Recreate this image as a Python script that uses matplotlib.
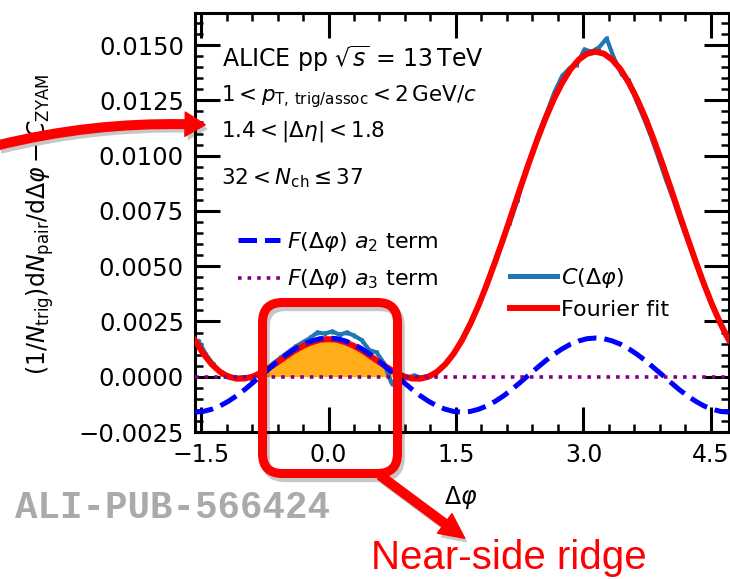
import matplotlib.pyplot as plt
import matplotlib.patheffects as pe
from matplotlib.lines import Line2D
from matplotlib.patches import FancyBboxPatch, FancyArrowPatch
from matplotlib.ticker import MultipleLocator, FuncFormatter

plt.rcParams['font.family'] = ['DejaVu Sans']
plt.rcParams['mathtext.fontset'] = 'dejavusans'

# measured correlation, 72 bins in delta phi
dphi = [-1.527, -1.440, -1.353, -1.265, -1.178, -1.091, -1.004, -0.916, -0.829, -0.742,
        -0.654, -0.567, -0.480, -0.393, -0.305, -0.218, -0.131, -0.044, 0.044, 0.131,
        0.218, 0.305, 0.393, 0.480, 0.567, 0.654, 0.742, 0.829, 0.916, 1.004,
        1.091, 1.178, 1.265, 1.353, 1.440, 1.527, 1.614, 1.702, 1.789, 1.876,
        1.963, 2.051, 2.138, 2.225, 2.313, 2.400, 2.487, 2.574, 2.662, 2.749,
        2.836, 2.923, 3.011, 3.098, 3.185, 3.272, 3.360, 3.447, 3.534, 3.621,
        3.709, 3.796, 3.883, 3.971, 4.058, 4.145, 4.232, 4.320, 4.407, 4.494,
        4.581, 4.669]
corr = [0.00160, 0.00100, 0.00055, 0.00015, 0.00005, -0.00005, -0.00002, -0.00006, 0.00008, 0.00025,
        0.00060, 0.00085, 0.00110, 0.00135, 0.00155, 0.00175, 0.00200, 0.00195, 0.00205, 0.00190,
        0.00200, 0.00185, 0.00165, 0.00120, 0.00110, 0.00060, -0.00030, 0.00000, -0.00005, 0.00005,
        -0.00003, 0.00005, 0.00018, 0.00050, 0.00090, 0.00140, 0.00205, 0.00270, 0.00350, 0.00440,
        0.00530, 0.00625, 0.00700, 0.00800, 0.00915, 0.01020, 0.01115, 0.01200, 0.01290, 0.01360,
        0.01395, 0.01415, 0.01480, 0.01470, 0.01490, 0.01530, 0.01440, 0.01370, 0.01340, 0.01250,
        0.01170, 0.01085, 0.00990, 0.00890, 0.00800, 0.00700, 0.00610, 0.00515, 0.00425, 0.00340,
        0.00265, 0.00190]
corr_err = 0.00012

# fit curves, sampled every pi/32
phi_fit = [-1.571, -1.473, -1.374, -1.276, -1.178, -1.080, -0.982, -0.884, -0.785, -0.687,
           -0.589, -0.491, -0.393, -0.295, -0.196, -0.098, 0.000, 0.098, 0.196, 0.295,
           0.393, 0.491, 0.589, 0.687, 0.785, 0.884, 0.982, 1.080, 1.178, 1.276,
           1.374, 1.473, 1.571, 1.669, 1.767, 1.865, 1.963, 2.062, 2.160, 2.258,
           2.356, 2.454, 2.553, 2.651, 2.749, 2.847, 2.945, 3.043, 3.142, 3.240,
           3.338, 3.436, 3.534, 3.632, 3.731, 3.829, 3.927, 4.025, 4.123, 4.222,
           4.320, 4.418, 4.516, 4.614, 4.712]
fourier_fit = [0.00165, 0.00104, 0.00056, 0.00022, 0.00000, -0.00009, -0.00008, 0.00002, 0.00020, 0.00043,
               0.00068, 0.00094, 0.00119, 0.00140, 0.00156, 0.00167, 0.00170, 0.00167, 0.00156, 0.00140,
               0.00119, 0.00094, 0.00068, 0.00043, 0.00020, 0.00002, -0.00008, -0.00009, 0.00000, 0.00022,
               0.00056, 0.00104, 0.00165, 0.00239, 0.00324, 0.00419, 0.00522, 0.00630, 0.00742, 0.00855,
               0.00965, 0.01070, 0.01168, 0.01255, 0.01329, 0.01390, 0.01434, 0.01461, 0.01470, 0.01461,
               0.01434, 0.01390, 0.01329, 0.01255, 0.01168, 0.01070, 0.00965, 0.00855, 0.00742, 0.00630,
               0.00522, 0.00419, 0.00324, 0.00239, 0.00165]
a2_term = [-0.00160, -0.00157, -0.00147, -0.00132, -0.00111, -0.00086, -0.00057, -0.00025, 0.00008, 0.00040,
           0.00072, 0.00101, 0.00126, 0.00147, 0.00162, 0.00172, 0.00175, 0.00172, 0.00162, 0.00147,
           0.00126, 0.00101, 0.00072, 0.00040, 0.00008, -0.00025, -0.00057, -0.00086, -0.00111, -0.00132,
           -0.00147, -0.00157, -0.00160, -0.00157, -0.00147, -0.00132, -0.00111, -0.00086, -0.00057, -0.00025,
           0.00008, 0.00040, 0.00072, 0.00101, 0.00126, 0.00147, 0.00162, 0.00172, 0.00175, 0.00172,
           0.00162, 0.00147, 0.00126, 0.00101, 0.00072, 0.00040, 0.00008, -0.00025, -0.00057, -0.00086,
           -0.00111, -0.00132, -0.00147, -0.00157, -0.00160]
a3_term = [0.0] * 65

W, H = 730, 579
fig = plt.figure(figsize=(W / 100, H / 100), dpi=100)
ax = fig.add_axes([195 / W, 1 - 432 / H, 534 / W, 419 / H])

# near-side yield (a2 term above zero)
near = [(v > 0) and abs(p) < 1.2 for p, v in zip(phi_fit, a2_term)]
ax.fill_between(phi_fit, a2_term, 0, where=near, interpolate=True,
                color='orange', alpha=0.9, lw=0, zorder=1)

ax.errorbar(dphi, corr, yerr=corr_err, fmt='none', ecolor='#1f77b4', elinewidth=2.2, zorder=2)
ax.plot(dphi, corr, color='#1f77b4', lw=3, zorder=2)
ax.plot(phi_fit, fourier_fit, color='red', lw=4.3, zorder=3)
ax.plot(phi_fit, a2_term, color='blue', lw=3.6, ls='--', zorder=4)
ax.plot(phi_fit, a3_term, color='purple', lw=2.6, ls=':', zorder=5)

ax.set_xlim(-1.5708, 4.7124)
ax.set_ylim(-0.0025, 0.01645)
ax.xaxis.set_major_locator(MultipleLocator(1.5))
ax.xaxis.set_minor_locator(MultipleLocator(0.3))
ax.yaxis.set_major_locator(MultipleLocator(0.0025))
ax.yaxis.set_minor_locator(MultipleLocator(0.0005))


def yfmt(v, pos):
    if abs(v) < 1e-10:
        v = 0.0
    return f'{v:.4f}'.replace('-', '\u2212')


ax.yaxis.set_major_formatter(FuncFormatter(yfmt))
ax.tick_params(which='both', direction='in', top=True, right=True)
ax.tick_params(which='major', length=18, width=2.2, pad=8)
ax.tick_params(which='minor', length=6, width=1.8)
ax.tick_params(axis='y', labelsize=17.5)
ax.tick_params(axis='x', labelsize=17)
for s in ax.spines.values():
    s.set_linewidth(2.2)

ax.set_xlabel(r'$\Delta\varphi$', fontsize=17)
ax.xaxis.set_label_coords(0.497, -0.124)
ax.set_ylabel(r'$(1/N_{\rm trig}){\rm d}N_{\rm pair}/{\rm d}\Delta\varphi - C_{\rm ZYAM}$',
              fontsize=17, va='center')
ax.yaxis.set_label_coords(-0.290, 0.4964)

ax.text(0.050, 0.872, r'ALICE pp $\sqrt{s}$ = 13$\,$TeV', transform=ax.transAxes, fontsize=17)
ax.text(0.048, 0.788, r'$1 < p_{\rm T,\,trig/assoc} < 2\,{\rm GeV}/c$', transform=ax.transAxes, fontsize=15.5)
ax.text(0.048, 0.705, r'$1.4 < |\Delta\eta| < 1.8$', transform=ax.transAxes, fontsize=15.5)
ax.text(0.048, 0.590, r'$32 < N_{\rm ch} \leq 37$', transform=ax.transAxes, fontsize=15.5)

h_a2 = Line2D([], [], color='blue', lw=3.6, ls='--')
h_a3 = Line2D([], [], color='purple', lw=2.6, ls=':')
leg1 = ax.legend([h_a2, h_a3], [r'$F(\Delta\varphi)$ $a_2$ term', r'$F(\Delta\varphi)$ $a_3$ term'],
                 loc='upper left', bbox_to_anchor=(0.080, 0.482), frameon=False, fontsize=16,
                 handlelength=1.9, handletextpad=0.3, labelspacing=0.6, borderpad=0, borderaxespad=0)
ax.add_artist(leg1)
h_c = Line2D([], [], color='#1f77b4', lw=3.6)
h_f = Line2D([], [], color='red', lw=4.3)
ax.legend([h_c, h_f], [r'$C(\Delta\varphi)$', 'Fourier fit'],
          loc='upper left', bbox_to_anchor=(0.590, 0.396), frameon=False, fontsize=16,
          handlelength=2.1, handletextpad=0.2, labelspacing=0.45, borderpad=0, borderaxespad=0)

# slide annotations on top, in pixel coordinates
ov = fig.add_axes([0, 0, 1, 1], zorder=10)
ov.set_xlim(0, W)
ov.set_ylim(H, 0)
ov.axis('off')
ov.patch.set_alpha(0)
line_shadow = [pe.SimpleLineShadow(offset=(2, -3), shadow_color='k', alpha=0.22), pe.Normal()]
fill_shadow = [pe.withSimplePatchShadow(offset=(2, -3), shadow_rgbFace='k', alpha=0.22)]

box = FancyBboxPatch((262.5, 302.5), 135, 171, boxstyle='round,pad=0,rounding_size=20',
                     fill=False, ec='red', lw=6.5, path_effects=line_shadow)
ov.add_patch(box)
ov.add_patch(FancyArrowPatch((-5, 146), (208, 125), connectionstyle='arc3,rad=-0.075',
                             arrowstyle='simple,head_length=1.45,head_width=1.75,tail_width=0.62',
                             mutation_scale=10, color='red', path_effects=fill_shadow))
ov.add_patch(FancyArrowPatch((378, 474), (467, 540),
                             arrowstyle='simple,head_length=1.8,head_width=1.75,tail_width=0.62',
                             mutation_scale=10, color='red', path_effects=fill_shadow))
ov.text(371, 569, 'Near-side ridge', color='red', fontsize=29, family='Liberation Sans',
        ha='left', va='baseline')
ov.text(15, 508, 'ALI-PUB-566424', color='#aaaaaa', fontsize=27, family='Liberation Mono',
        weight='bold', ha='left', va='center')

fig.savefig('out.png', dpi=100)
